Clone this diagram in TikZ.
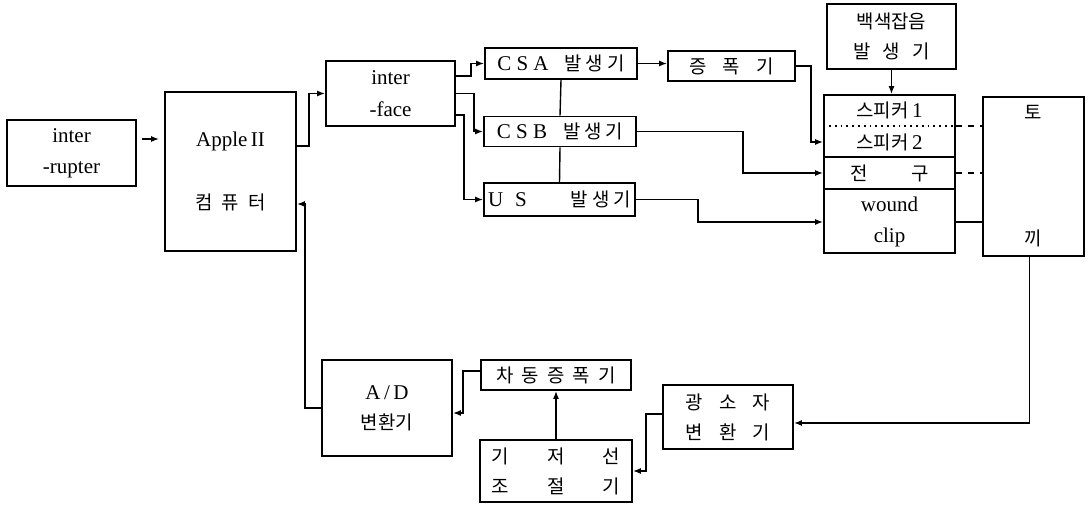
\documentclass[tikz,border=0pt]{standalone}
\usepackage{fontspec}
\setmainfont{Liberation Serif}
\newfontfamily\kr{Noto Sans CJK KR}[Scale=0.9]
\usetikzlibrary{arrows.meta,positioning,calc}

\begin{document}
\begin{tikzpicture}[x=0.5pt,y=-0.5pt,
  blk/.style={draw,line width=0.9pt,inner sep=0pt,align=center,
    font=\fontsize{10.5}{11.5}\selectfont},
  krblk/.style={blk,font=\fontsize{10.5}{11.5}\selectfont\kr},
  txt/.style={inner sep=0pt,font=\fontsize{10.5}{11.5}\selectfont},
  arr/.style={-{Latex[length=4pt,width=3pt]},line width=0.7pt},
  wire/.style={line width=0.7pt}
]
  \useasboundingbox (0,0) rectangle (1091,505);
  % Interrupter and computer
  \node[blk,minimum width=64.5pt,minimum height=33pt] (irupt) at (71.5,153) {inter\\[4pt]-rupter};
  \node[blk,minimum width=65.5pt,minimum height=79.5pt] (apple) at (230.5,171.5)
    {Apple\,II\\[20pt]{\kr 컴\hspace{4.5pt}퓨\hspace{4.5pt}터}};
  \node[blk,minimum width=64.5pt,minimum height=32.5pt] (iface) at (390.5,93.5) {inter\\[4.5pt]-face};
  % Generators
  \node[blk,minimum width=76pt,minimum height=15.5pt] (csa) at (561,63.5)
    {C S A\hspace{8pt}{\kr 발\hspace{2pt}생\hspace{2pt}기}};
  \node[blk,minimum width=76pt,minimum height=15pt] (csb) at (560,131.5)
    {C S B\hspace{8pt}{\kr 발\hspace{2pt}생\hspace{2pt}기}};
  \node[blk,minimum width=75.5pt,minimum height=16.5pt] (usgen) at (559.5,199.5)
    {U\hspace{6pt}S\hspace{22pt}{\kr 발\hspace{2pt}생\hspace{2pt}기}};
  \node[krblk,minimum width=63.5pt,minimum height=15pt] (amp) at (731.5,66)
    {증\hspace{8pt}폭\hspace{8pt}기};
  \node[krblk,minimum width=64.5pt,minimum height=32.5pt] (noise) at (891.5,36.5)
    {백색잡음\\[3.5pt]발\hspace{6pt}생\hspace{6pt}기};
  % Stimulus stack
  \node[blk,minimum width=65.5pt,minimum height=79pt] (stack) at (889.5,174) {};
  \node[txt] (spkA) at (889.5,110) {{\kr 스피커}\,1};
  \node[txt] (spkB) at (889.5,142) {{\kr 스피커}\,2};
  \node[txt] (lamp) at (889.5,173) {\kr 전\hspace{22pt}구};
  \node[txt,align=center] (clip) at (889.5,222) {wound\\[4pt]clip};
  \draw[dotted,line width=0.9pt] (stack.west |- 0,126) -- (stack.east |- 0,126);
  \draw[line width=0.9pt] (stack.west |- 0,157) -- (stack.east |- 0,157);
  \draw[line width=0.9pt] (stack.west |- 0,189) -- (stack.east |- 0,189);
  % Rabbit
  \node[krblk,minimum width=50.5pt,minimum height=79.5pt] (toki) at (1033.5,176.5)
    {토\\[51.5pt]끼};
  % Feedback chain
  \node[krblk,minimum width=65pt,minimum height=32pt] (photo) at (728,417)
    {광\hspace{8pt}소\hspace{8pt}자\\[3.5pt]변\hspace{8pt}환\hspace{8pt}기};
  \node[krblk,minimum width=76pt,minimum height=31pt] (base) at (556,471)
    {기\hspace{19pt}저\hspace{19pt}선\\[3.5pt]조\hspace{19pt}절\hspace{19pt}기};
  \node[krblk,minimum width=75pt,minimum height=15pt] (diffamp) at (556,375)
    {차\hspace{4pt}동\hspace{4pt}증\hspace{4pt}폭\hspace{4pt}기};
  \node[blk,minimum width=65pt,minimum height=48pt] (adc) at (387,408)
    {A\,/\,D\\[3.5pt]{\kr 변환기}};
  % Forward connections
  \draw[arr,shorten <=2.5pt,shorten >=2.5pt] ([yshift=7pt]irupt.east) -- ([yshift=7pt]irupt.east -| apple.west);
  \draw[arr] ([yshift=12.75pt]apple.east) -- ++(12,0) |- (iface.west);
  \draw[arr] ([yshift=8.75pt]iface.east) -- ++(15,0) |- (csa.west);
  \draw[arr] (iface.east) -- ++(18,0) |- (csb.west);
  \draw[arr] ([yshift=-10.75pt]iface.east) -- ++(8,0) |- (usgen.west);
  \draw[wire] (csa.south) -- (csb.north);
  \draw[wire] (csb.south) -- (usgen.north);
  \draw[arr] (csa.east) -- (csa.east -| amp.west);
  \draw[arr] (amp.east) -- ++(15,0) |- (stack.west |- spkB);
  \draw[arr] (csb.east) -- ++(106,0) |- (stack.west |- lamp);
  \draw[arr] (usgen.east) -- ++(62,0) |- (stack.west |- clip);
  \draw[arr] (noise.south) -- (noise.south |- stack.north);
  % Links to rabbit
  \draw[dashed,line width=0.7pt] (stack.east |- 0,126) -- (toki.west |- 0,126);
  \draw[dashed,line width=0.7pt] (stack.east |- lamp) -- (toki.west |- lamp);
  \draw[wire] (stack.east |- clip) -- (toki.west |- clip);
  % Feedback connections
  \draw[arr] ([xshift=-2pt]toki.south) |- ([yshift=-3pt]photo.east);
  \draw[arr] ([yshift=1.5pt]photo.west) -- ++(-16,0) |- (base.east);
  \draw[arr] (base.north) -- (diffamp.south);
  \draw[arr] ([yshift=2pt]diffamp.west) -- ++(-17,0) |- ([yshift=-2.5pt]adc.east);
  \draw[arr] (adc.west) -- ++(-16,0) |- ([yshift=-16.25pt]apple.east);
\end{tikzpicture}
\end{document}
